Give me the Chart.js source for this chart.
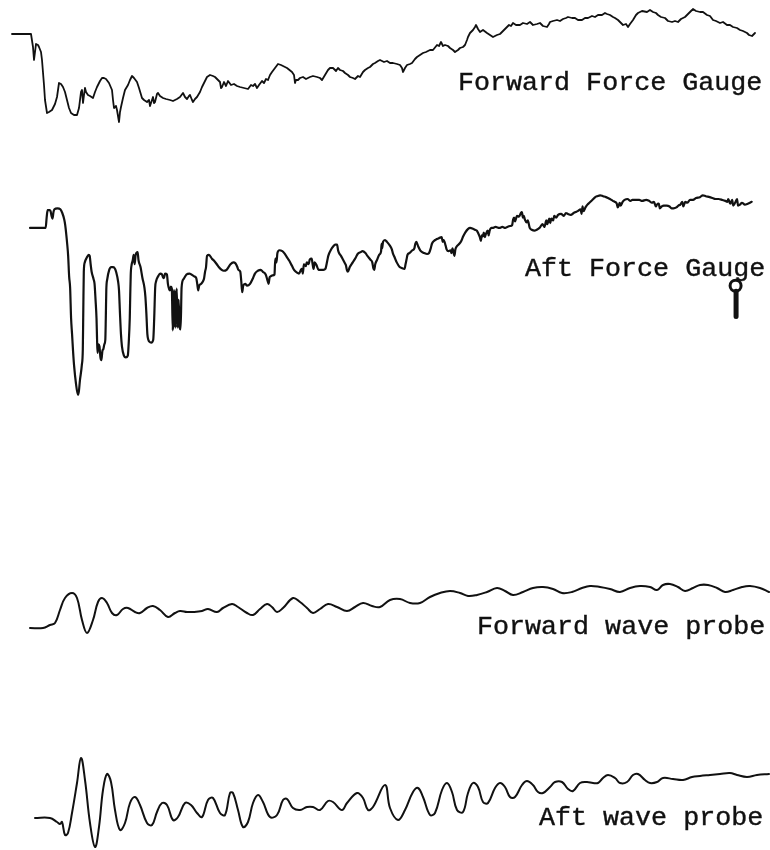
<!DOCTYPE html>
<html>
<head>
<meta charset="utf-8">
<script src="https://cdn.jsdelivr.net/npm/chart.js@4/dist/chart.umd.min.js"></script>
<style>
  html, body { margin: 0; padding: 0; background: #ffffff; }
  #sheet { position: relative; width: 770px; height: 850px; overflow: hidden; background: #ffffff; }
  #sheet canvas { position: absolute; left: 0; }
  .lbl {
    position: absolute; margin: 0; white-space: pre;
    font-family: "Liberation Mono", "DejaVu Sans Mono", monospace;
    font-size: 26.7px; line-height: 26.7px; color: #111111;
    -webkit-text-stroke: 0.4px #111111;
  }
</style>
</head>
<body>
<div id="sheet">
  <canvas id="c1" width="770" height="130" style="top:0px"></canvas>
  <canvas id="c2" width="770" height="250" style="top:170px"></canvas>
  <canvas id="c3" width="770" height="90" style="top:560px"></canvas>
  <canvas id="c4" width="770" height="110" style="top:740px"></canvas>
  <div class="lbl" style="left:458px; top:69.5px">Forward Force Gauge</div>
  <div class="lbl" style="left:525px; top:255.5px">Aft Force Gauge</div>
  <div class="lbl" style="left:477px; top:613.5px">Forward wave probe</div>
  <div class="lbl" style="left:539px; top:804.5px">Aft wave probe</div>
</div>
<script>
// Time base shared by all four recorder channels (s)
const T_MIN = 0, T_MAX = 77;

// Each channel: [time (s), pen deflection (div, + up)]
const fwdForce = [[1.2,0],[3.1,0],[3.3,-13],[3.4,-26],[3.5,-18],[3.6,-10],[3.8,-11],[3.9,-13],[4.1,-18],[4.2,-26],[4.4,-51],[4.5,-66],[4.7,-79],[4.9,-78],[5.2,-76],[5.5,-70],[5.7,-63],[5.9,-49],[6.1,-50],[6.3,-53],[6.5,-58],[6.7,-66],[6.9,-74],[7.1,-79],[7.4,-81],[7.7,-81],[7.9,-74],[8.0,-66],[8.1,-58],[8.2,-56],[8.3,-69],[8.4,-61],[8.5,-54],[8.6,-58],[8.8,-61],[9.0,-62],[9.3,-64],[9.5,-58],[9.7,-53],[10.0,-47],[10.2,-44],[10.4,-44],[10.6,-45],[10.9,-49],[11.2,-56],[11.3,-66],[11.4,-74],[11.6,-72],[11.7,-76],[11.8,-82],[11.9,-88],[12.0,-78],[12.1,-73],[12.3,-64],[12.5,-56],[12.8,-51],[13.0,-46],[13.2,-42],[13.4,-44],[13.7,-48],[13.9,-54],[14.2,-64],[14.4,-66],[14.7,-68],[14.9,-66],[15.0,-72],[15.2,-66],[15.3,-63],[15.4,-69],[15.5,-68],[15.7,-60],[15.8,-59],[16.0,-62],[16.3,-64],[16.6,-65],[17.0,-66],[17.3,-67],[17.7,-65],[18.0,-63],[18.3,-59],[18.5,-63],[18.7,-65],[18.9,-62],[19.0,-61],[19.2,-66],[19.3,-68],[19.5,-65],[19.7,-63],[20.0,-58],[20.2,-53],[20.5,-47],[20.7,-43],[21.0,-41],[21.3,-42],[21.5,-43],[21.8,-46],[22.0,-48],[22.1,-54],[22.2,-53],[22.4,-48],[22.6,-52],[22.8,-47],[23.1,-51],[23.4,-50],[23.7,-52],[24.0,-53],[24.4,-54],[24.8,-55],[25.1,-51],[25.3,-52],[25.5,-50],[25.7,-54],[25.9,-51],[26.2,-47],[26.4,-49],[26.6,-45],[26.8,-46],[27.0,-41],[27.2,-38],[27.5,-34],[27.8,-30],[28.1,-31],[28.3,-32],[28.7,-34],[29.2,-38],[29.4,-41],[29.5,-49],[29.6,-46],[29.8,-46],[30.0,-44],[30.3,-43],[30.6,-45],[31.0,-43],[31.3,-42],[31.7,-43],[32.0,-44],[32.2,-46],[32.5,-41],[32.8,-36],[33.0,-34],[33.3,-34],[33.6,-37],[33.8,-34],[34.0,-36],[34.3,-37],[34.5,-39],[34.8,-41],[35.0,-43],[35.3,-44],[35.5,-45],[35.8,-42],[36.0,-43],[36.3,-38],[36.5,-36],[36.8,-34],[37.0,-33],[37.3,-30],[37.5,-29],[37.8,-27],[38.0,-26],[38.4,-28],[38.7,-27],[39.0,-29],[39.3,-29],[39.7,-30],[40.0,-31],[40.2,-34],[40.3,-38],[40.5,-34],[40.7,-31],[41.0,-30],[41.2,-29],[41.5,-25],[41.7,-23],[42.0,-21],[42.3,-19],[42.6,-18],[43.0,-16],[43.3,-16],[43.7,-11],[43.9,-12],[44.1,-8],[44.3,-12],[44.5,-11],[44.8,-12],[45.0,-14],[45.3,-16],[45.5,-18],[45.8,-16],[46.0,-14],[46.3,-13],[46.5,-11],[46.7,-6],[46.8,-3],[47.0,1],[47.3,4],[47.5,7],[47.6,9],[47.8,5],[48.0,2],[48.3,4],[48.7,1],[49.0,-1],[49.3,-3],[49.7,-1],[50.0,0],[50.3,3],[50.5,5],[50.7,7],[50.9,9],[51.1,8],[51.3,11],[51.6,9],[52.0,9],[52.3,11],[52.7,10],[53.0,12],[53.3,9],[53.7,10],[54.0,11],[54.3,8],[54.7,7],[54.9,10],[55.0,12],[55.3,13],[55.7,14],[56.0,13],[56.3,15],[56.6,16],[56.8,17],[57.2,16],[57.5,16],[57.8,14],[58.2,14],[58.5,16],[58.8,16],[59.2,18],[59.5,17],[59.8,19],[60.2,19],[60.5,21],[60.7,20],[61.0,19],[61.3,17],[61.5,16],[61.8,14],[62.1,11],[62.3,9],[62.6,10],[62.8,7],[63.0,10],[63.3,14],[63.6,19],[63.8,21],[64.2,23],[64.7,22],[65.0,24],[65.3,22],[65.6,21],[65.8,19],[66.1,17],[66.5,16],[66.8,13],[67.2,12],[67.5,13],[67.8,12],[68.1,15],[68.5,17],[68.8,20],[69.0,22],[69.2,24],[69.3,25],[69.6,23],[70.0,22],[70.3,22],[70.7,19],[71.0,18],[71.3,14],[71.6,13],[72.0,11],[72.3,12],[72.7,9],[73.0,9],[73.3,7],[73.7,6],[74.0,4],[74.3,3],[74.7,1],[74.9,-1],[75.2,-2],[75.4,0],[75.5,1]];

const aftForce = [[2.2,0],[3.8,0],[3.9,11],[4.0,19],[4.2,19],[4.3,18],[4.4,13],[4.5,10],[4.6,17],[4.7,20],[5.0,21],[5.3,20],[5.5,16],[5.7,9],[5.8,3],[6.0,-17],[6.1,-30],[6.2,-52],[6.3,-64],[6.4,-97],[6.5,-114],[6.6,-132],[6.7,-147],[6.9,-167],[7.1,-179],[7.2,-175],[7.3,-164],[7.5,-147],[7.6,-130],[7.65,-87],[7.7,-47],[7.8,-37],[8.0,-32],[8.2,-29],[8.3,-30],[8.4,-39],[8.5,-47],[8.7,-55],[8.8,-60],[8.9,-77],[9.0,-97],[9.05,-117],[9.1,-134],[9.2,-125],[9.3,-127],[9.4,-139],[9.5,-142],[9.6,-132],[9.7,-130],[9.8,-125],[9.9,-120],[9.95,-97],[10.0,-67],[10.1,-55],[10.3,-45],[10.5,-42],[10.7,-42],[10.9,-44],[11.0,-47],[11.2,-57],[11.3,-67],[11.4,-92],[11.5,-114],[11.6,-127],[11.8,-137],[12.0,-139],[12.2,-137],[12.3,-122],[12.4,-97],[12.45,-72],[12.5,-50],[12.6,-39],[12.7,-35],[12.8,-29],[12.9,-39],[13.0,-29],[13.2,-26],[13.3,-35],[13.5,-42],[13.7,-54],[13.9,-64],[14.0,-74],[14.1,-92],[14.2,-114],[14.3,-120],[14.4,-122],[14.6,-123],[14.8,-120],[14.9,-97],[15.0,-64],[15.1,-57],[15.3,-52],[15.5,-49],[15.7,-50],[15.8,-53],[15.9,-54],[16.0,-49],[16.2,-50],[16.3,-60],[16.5,-67],[16.6,-63],[16.7,-65],[16.8,-110],[16.85,-67],[16.9,-107],[17.0,-67],[17.1,-107],[17.2,-65],[17.3,-107],[17.4,-77],[17.5,-107],[17.6,-109],[17.7,-64],[17.9,-55],[18.2,-50],[18.5,-49],[18.7,-50],[19.0,-52],[19.2,-54],[19.3,-60],[19.4,-67],[19.5,-62],[19.7,-60],[19.9,-57],[20.0,-54],[20.1,-47],[20.2,-42],[20.3,-30],[20.5,-29],[20.8,-33],[21.0,-35],[21.3,-39],[21.5,-42],[21.8,-45],[22.0,-46],[22.3,-45],[22.5,-42],[22.7,-39],[23.0,-37],[23.2,-38],[23.4,-42],[23.5,-45],[23.7,-47],[23.8,-57],[23.9,-69],[24.0,-62],[24.2,-60],[24.4,-62],[24.7,-60],[25.0,-54],[25.2,-49],[25.5,-46],[25.8,-45],[26.0,-47],[26.3,-50],[26.5,-57],[26.6,-60],[26.7,-53],[26.8,-52],[27.0,-51],[27.2,-50],[27.25,-39],[27.3,-33],[27.4,-37],[27.5,-27],[27.7,-24],[28.0,-25],[28.2,-27],[28.5,-32],[28.7,-35],[29.0,-41],[29.2,-45],[29.5,-48],[29.7,-49],[29.9,-45],[30.0,-44],[30.1,-49],[30.2,-39],[30.4,-41],[30.5,-37],[30.7,-39],[30.8,-34],[31.0,-33],[31.1,-39],[31.2,-44],[31.3,-37],[31.5,-40],[31.7,-45],[32.0,-45],[32.2,-45],[32.4,-44],[32.6,-35],[32.7,-30],[33.0,-23],[33.2,-20],[33.4,-18],[33.6,-18],[33.7,-24],[33.8,-27],[34.0,-30],[34.2,-34],[34.4,-38],[34.5,-40],[34.6,-45],[34.7,-47],[34.9,-42],[35.2,-37],[35.5,-32],[35.7,-28],[36.0,-26],[36.2,-25],[36.5,-27],[36.7,-30],[37.0,-34],[37.2,-37],[37.3,-43],[37.4,-45],[37.5,-39],[37.7,-34],[37.9,-29],[38.1,-25],[38.15,-17],[38.2,-22],[38.3,-15],[38.5,-13],[38.7,-15],[39.0,-19],[39.2,-23],[39.3,-27],[39.5,-32],[39.7,-37],[40.0,-42],[40.2,-43],[40.5,-44],[40.6,-39],[40.7,-34],[40.8,-29],[41.0,-27],[41.3,-24],[41.5,-22],[41.6,-17],[41.7,-15],[41.9,-20],[42.1,-24],[42.3,-26],[42.5,-27],[42.8,-28],[43.0,-27],[43.2,-21],[43.3,-17],[43.5,-14],[43.8,-12],[44.0,-11],[44.3,-10],[44.4,-15],[44.5,-13],[44.7,-19],[44.8,-23],[45.0,-25],[45.2,-24],[45.3,-27],[45.4,-22],[45.6,-30],[45.7,-23],[45.9,-19],[46.1,-17],[46.3,-14],[46.5,-9],[46.7,-5],[47.0,-1],[47.2,0],[47.5,-1],[47.7,-2],[47.9,-3],[48.0,-5],[48.2,-10],[48.3,-14],[48.4,-8],[48.5,-9],[48.6,-5],[48.7,-10],[48.8,-7],[49.0,-3],[49.1,-8],[49.2,-3],[49.4,0],[49.5,0],[49.8,1],[50.2,0],[50.5,1],[50.8,0],[51.0,1],[51.3,2],[51.5,3],[51.6,9],[51.7,11],[51.8,7],[52.0,13],[52.2,12],[52.4,16],[52.5,17],[52.6,11],[52.7,13],[52.8,9],[53.0,6],[53.1,8],[53.3,0],[53.5,-2],[53.8,-3],[54.0,-2],[54.3,0],[54.6,4],[54.8,1],[55.0,8],[55.1,4],[55.3,10],[55.4,5],[55.5,10],[55.7,8],[55.8,13],[56.0,11],[56.2,14],[56.5,15],[56.8,13],[57.0,16],[57.2,15],[57.5,14],[57.8,16],[58.0,17],[58.2,18],[58.5,20],[58.6,15],[58.7,23],[58.8,18],[59.0,22],[59.2,25],[59.4,27],[59.7,30],[60.0,33],[60.2,34],[60.5,35],[60.8,34],[61.1,33],[61.5,31],[61.8,29],[62.0,28],[62.2,26],[62.3,22],[62.4,24],[62.5,27],[62.6,24],[62.8,28],[63.0,30],[63.3,31],[63.6,29],[63.8,30],[64.1,30],[64.5,30],[64.8,29],[65.2,30],[65.5,29],[65.8,27],[66.0,28],[66.2,23],[66.3,25],[66.5,26],[66.6,21],[66.8,23],[67.0,24],[67.3,24],[67.6,23],[67.8,21],[68.0,21],[68.3,22],[68.5,24],[68.7,25],[68.9,28],[69.0,23],[69.2,28],[69.4,27],[69.7,30],[70.0,30],[70.3,32],[70.7,33],[71.0,35],[71.3,34],[71.7,33],[72.0,32],[72.3,31],[72.6,31],[73.0,30],[73.3,29],[73.5,28],[73.6,31],[73.8,26],[74.0,30],[74.1,24],[74.3,27],[74.5,31],[74.6,24],[74.8,25],[75.0,27],[75.3,25],[75.6,26],[76.0,28]];

// Recorder pen mark on the aft force channel
const penStem = [[74.4,-68],[74.4,-95]];
const penLoop = [[74.35,-62]];

const fwdWave = [[3.0,0],[4.3,0],[5.0,3],[5.5,5],[6.0,18],[6.5,30],[7.2,35],[7.7,30],[8.2,8],[8.7,-5],[9.3,8],[9.8,26],[10.2,30],[10.7,25],[11.2,15],[11.7,13],[12.3,19],[12.8,20],[13.5,16],[14.0,15],[14.7,20],[15.3,22],[16.0,18],[16.8,11],[17.5,15],[18.0,17],[18.7,16],[19.3,16],[20.2,17],[20.8,19],[21.7,16],[22.3,20],[23.2,24],[23.8,21],[24.7,15],[25.3,13],[26.0,19],[26.7,24],[27.2,21],[27.7,16],[28.3,20],[29.3,30],[30.0,26],[30.7,20],[31.3,15],[32.0,19],[32.8,24],[33.7,21],[34.7,17],[35.5,21],[36.3,25],[37.2,22],[38.0,21],[39.0,28],[40.0,29],[41.0,25],[42.0,25],[43.0,31],[44.0,35],[45.0,37],[46.0,35],[46.8,32],[47.7,33],[48.7,36],[49.7,40],[50.5,37],[51.3,33],[52.3,36],[53.3,40],[54.3,41],[55.3,39],[56.2,35],[57.2,36],[58.2,40],[59.0,42],[60.0,41],[61.0,39],[62.0,36],[63.0,40],[64.0,42],[65.0,41],[65.7,38],[66.3,43],[67.0,44],[67.8,41],[68.5,37],[69.3,40],[70.0,43],[70.8,43],[71.7,40],[72.5,36],[73.3,38],[74.2,41],[75.0,42],[76.0,40],[76.9,36]];

const aftWave = [[3.5,0],[5.0,0],[5.7,-4],[6.0,-6],[6.2,-4],[6.5,-17],[6.8,-15],[7.2,5],[7.7,35],[8.1,60],[8.5,38],[9.0,-5],[9.5,-29],[9.9,-9],[10.3,28],[10.7,44],[11.1,36],[11.5,8],[12.0,-12],[12.5,-5],[13.0,15],[13.5,21],[14.0,13],[14.7,-5],[15.2,-7],[15.7,6],[16.2,15],[16.7,13],[17.3,-2],[17.8,1],[18.5,15],[19.1,13],[19.7,5],[20.2,1],[20.8,18],[21.3,20],[22.0,5],[22.5,3],[23.0,25],[23.3,25],[23.8,8],[24.3,-9],[24.8,-4],[25.3,15],[25.8,23],[26.3,16],[27.0,1],[27.7,3],[28.3,18],[28.7,19],[29.3,10],[30.0,8],[30.7,11],[31.3,11],[32.0,8],[32.8,17],[33.3,16],[34.2,8],[34.7,15],[35.7,25],[36.3,20],[36.8,8],[37.3,11],[38.5,33],[39.0,10],[39.8,-2],[40.5,8],[41.3,26],[41.8,30],[42.3,21],[43.0,3],[43.5,5],[44.2,28],[44.7,35],[45.2,26],[45.7,8],[46.3,6],[46.8,25],[47.3,35],[47.8,31],[48.3,16],[48.8,15],[49.5,30],[50.0,35],[50.5,31],[51.0,21],[51.5,21],[52.2,33],[52.7,37],[53.3,33],[53.8,26],[54.3,25],[55.0,31],[55.5,36],[56.2,36],[56.8,29],[57.3,27],[58.0,35],[58.7,36],[59.3,35],[59.8,35],[60.3,40],[60.8,43],[61.5,40],[62.0,35],[62.7,36],[63.3,43],[63.8,44],[64.5,38],[65.0,35],[65.7,36],[66.3,40],[67.3,39],[68.3,38],[69.2,41],[70.0,42],[71.0,43],[72.0,44],[73.0,45],[73.7,43],[74.7,41],[75.7,43],[76.9,44]];

const INK = '#111111';

function points(rows) {
  return rows.map(r => ({ x: r[0], y: r[1] }));
}

function traceSet(rows, width, smooth) {
  const ds = {
    data: points(rows),
    borderColor: INK,
    borderWidth: width,
    pointRadius: 0,
    fill: false,
    clip: false,
    borderJoinStyle: 'round',
    borderCapStyle: 'round',
    tension: 0
  };
  if (smooth === 'monotone') ds.cubicInterpolationMode = 'monotone';
  else if (smooth) ds.tension = smooth;
  return ds;
}

function channel(id, datasets, yMin, yMax) {
  return new Chart(document.getElementById(id), {
    type: 'line',
    data: { datasets: datasets },
    options: {
      responsive: false,
      animation: false,
      events: [],
      layout: { padding: 0 },
      plugins: { legend: { display: false }, tooltip: { enabled: false }, title: { display: false } },
      scales: {
        x: { type: 'linear', min: T_MIN, max: T_MAX, display: false },
        y: { type: 'linear', min: yMin, max: yMax, display: false }
      }
    }
  });
}

channel('c1', [traceSet(fwdForce, 1.8, 0)], -96, 34);

channel('c2', [
  traceSet(aftForce, 2.2, 'monotone'),
  Object.assign(traceSet(penStem, 5, 0), { borderCapStyle: 'butt' }),
  {
    data: points(penLoop),
    showLine: false,
    pointRadius: 5.5,
    pointStyle: 'circle',
    pointBorderWidth: 3,
    pointBorderColor: INK,
    pointBackgroundColor: '#ffffff',
    clip: false
  }
], -197, 53);

channel('c3', [traceSet(fwdWave, 2, 0.4)], -22, 68);

channel('c4', [traceSet(aftWave, 2, 0.4)], -32, 78);
</script>
</body>
</html>
